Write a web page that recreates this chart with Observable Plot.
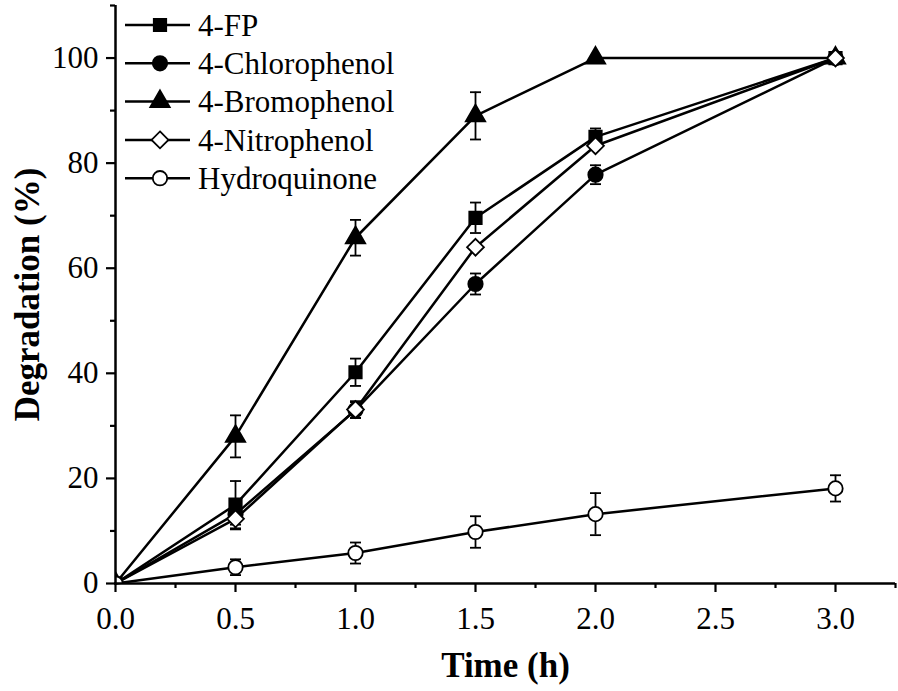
<!DOCTYPE html>
<html><head><meta charset="utf-8">
<script src="https://cdn.jsdelivr.net/npm/d3@7"></script>
<script src="https://cdn.jsdelivr.net/npm/@observablehq/plot@0.6"></script>
<style>
body{margin:0;background:#fff;}
#wrap{position:relative;width:898px;height:691px;font-family:"Liberation Serif","Times New Roman",serif;}
#legend{position:absolute;left:0;top:0;}
</style></head><body><div id="wrap"></div>
<script>
// ---- data ----
const times = [0, 0.5, 1.0, 1.5, 2.0, 3.0];
const seriesNames = ["4-FP", "4-Chlorophenol", "4-Bromophenol", "4-Nitrophenol", "Hydroquinone"];
const fpValues = [0, 15.0, 40.2, 69.6, 85.0, 100];
const fpErrors = [0, 4.5, 2.6, 2.9, 1.6, 0];
const chlorValues = [0, 13.2, 33.0, 57.0, 77.8, 100];
const chlorErrors = [0, 2.0, 1.5, 2.0, 1.8, 0];
const bromoValues = [0, 28.0, 65.8, 89.0, 100, 100];
const bromoErrors = [0, 4.0, 3.4, 4.5, 0, 0];
const nitroValues = [0, 12.3, 33.1, 64.0, 83.3, 100];
const nitroErrors = [0, 2.0, 1.6, 0, 0, 0];
const hydroValues = [0, 3.1, 5.8, 9.8, 13.2, 18.1];
const hydroErrors = [0, 1.5, 2.0, 3.0, 4.0, 2.5];
const xMajorTicks = [0, 0.5, 1.0, 1.5, 2.0, 2.5, 3.0];
const xMinorTicks = [0.25, 0.75, 1.25, 1.75, 2.25, 2.75, 3.25];
const yMajorTicks = [0, 20, 40, 60, 80, 100];
const yMinorTicks = [10, 30, 50, 70, 90, 110];

// ---- styles ----
const valueArrays = [fpValues, chlorValues, bromoValues, nitroValues, hydroValues];
const errorArrays = [fpErrors, chlorErrors, bromoErrors, nitroErrors, hydroErrors];
const symbols = ["square", "circle", "triangle", "diamond2", "circle"];
const fills = ["black", "black", "black", "white", "white"];
const radii = [7, 7.2, 7.2, 7.6, 7.2];

const rows = seriesNames.flatMap((name, s) => times.map((t, i) => ({name, s, t, v: valueArrays[s][i], e: errorArrays[s][i]})));
const errRows = rows.filter(d => d.e > 0);

const capSymbol = {draw(ctx) { ctx.moveTo(-5.5, 0); ctx.lineTo(5.5, 0); }};

const marks = [
  Plot.line(rows, {x: "t", y: "v", z: "name", stroke: "black", strokeWidth: 2.5, strokeLinejoin: "round"}),
  Plot.ruleX(errRows, {x: "t", y1: d => d.v - d.e, y2: d => d.v + d.e, stroke: "black", strokeWidth: 1.8}),
  Plot.dot(errRows, {x: "t", y: d => d.v + d.e, symbol: capSymbol, r: 5, stroke: "black", strokeWidth: 1.8, fill: "none"}),
  Plot.dot(errRows, {x: "t", y: d => d.v - d.e, symbol: capSymbol, r: 5, stroke: "black", strokeWidth: 1.8, fill: "none"})
];
seriesNames.forEach((name, s) => {
  marks.push(Plot.dot(rows.filter(d => d.s === s), {x: "t", y: "v", symbol: symbols[s], r: radii[s], fill: fills[s], stroke: "black", strokeWidth: 1.8, clip: true}));
});
marks.push(
  Plot.axisX({ticks: xMajorTicks, tickFormat: d => d.toFixed(1), tickSize: 9, tickPadding: 14, strokeWidth: 2.2, fontSize: 31, label: null}),
  Plot.axisX({ticks: xMinorTicks, tickFormat: () => "", tickSize: 5, strokeWidth: 2.2, label: null}),
  Plot.axisY({ticks: yMajorTicks, tickFormat: d => String(d), tickSize: 9, tickPadding: 8, strokeWidth: 2.2, fontSize: 31, label: null}),
  Plot.axisY({ticks: yMinorTicks, tickFormat: () => "", tickSize: 5, strokeWidth: 2.2, label: null}),
  Plot.ruleY([0], {stroke: "black", strokeWidth: 2.5}),
  Plot.ruleX([0], {stroke: "black", strokeWidth: 2.5}),
  Plot.text(["Time (h)"], {frameAnchor: "bottom", dy: 82, textAnchor: "middle", lineAnchor: "middle", fontSize: 35, fontWeight: "bold", fill: "black"}),
  Plot.text(["Degradation (%)"], {frameAnchor: "left", dx: -88, rotate: -90, textAnchor: "middle", lineAnchor: "middle", fontSize: 35, fontWeight: "bold", fill: "black"})
);

const chart = Plot.plot({
  width: 898, height: 691,
  marginLeft: 115, marginRight: 3, marginTop: 5, marginBottom: 108,
  x: {domain: [0, 3.25]},
  y: {domain: [0, 110]},
  style: {fontFamily: '"Liberation Serif","Times New Roman",serif', color: "black", background: "white", overflow: "visible"},
  marks
});
const wrap = document.getElementById("wrap");
wrap.appendChild(chart);

// ---- legend (inside plot, top-left) ----
const symMap = {square: d3.symbolSquare, circle: d3.symbolCircle, triangle: d3.symbolTriangle, diamond2: d3.symbolDiamond2};
const leg = d3.select(wrap).append("svg").attr("id", "legend").attr("width", 420).attr("height", 200)
  .style("font-family", '"Liberation Serif","Times New Roman",serif');
seriesNames.forEach((name, s) => {
  const g = leg.append("g").attr("transform", `translate(0,${25 + s * 38.3})`);
  g.append("line").attr("x1", 125).attr("x2", 190).attr("y1", 0).attr("y2", 0).attr("stroke", "black").attr("stroke-width", 2.5);
  g.append("path").attr("transform", "translate(160,0)")
    .attr("d", d3.symbol(symMap[symbols[s]], radii[s] * radii[s] * Math.PI)())
    .attr("fill", fills[s]).attr("stroke", "black").attr("stroke-width", 1.8);
  g.append("text").attr("x", 198).attr("y", 0).attr("dy", "0.35em").attr("font-size", 31).attr("fill", "black").text(name);
});
</script></body></html>
